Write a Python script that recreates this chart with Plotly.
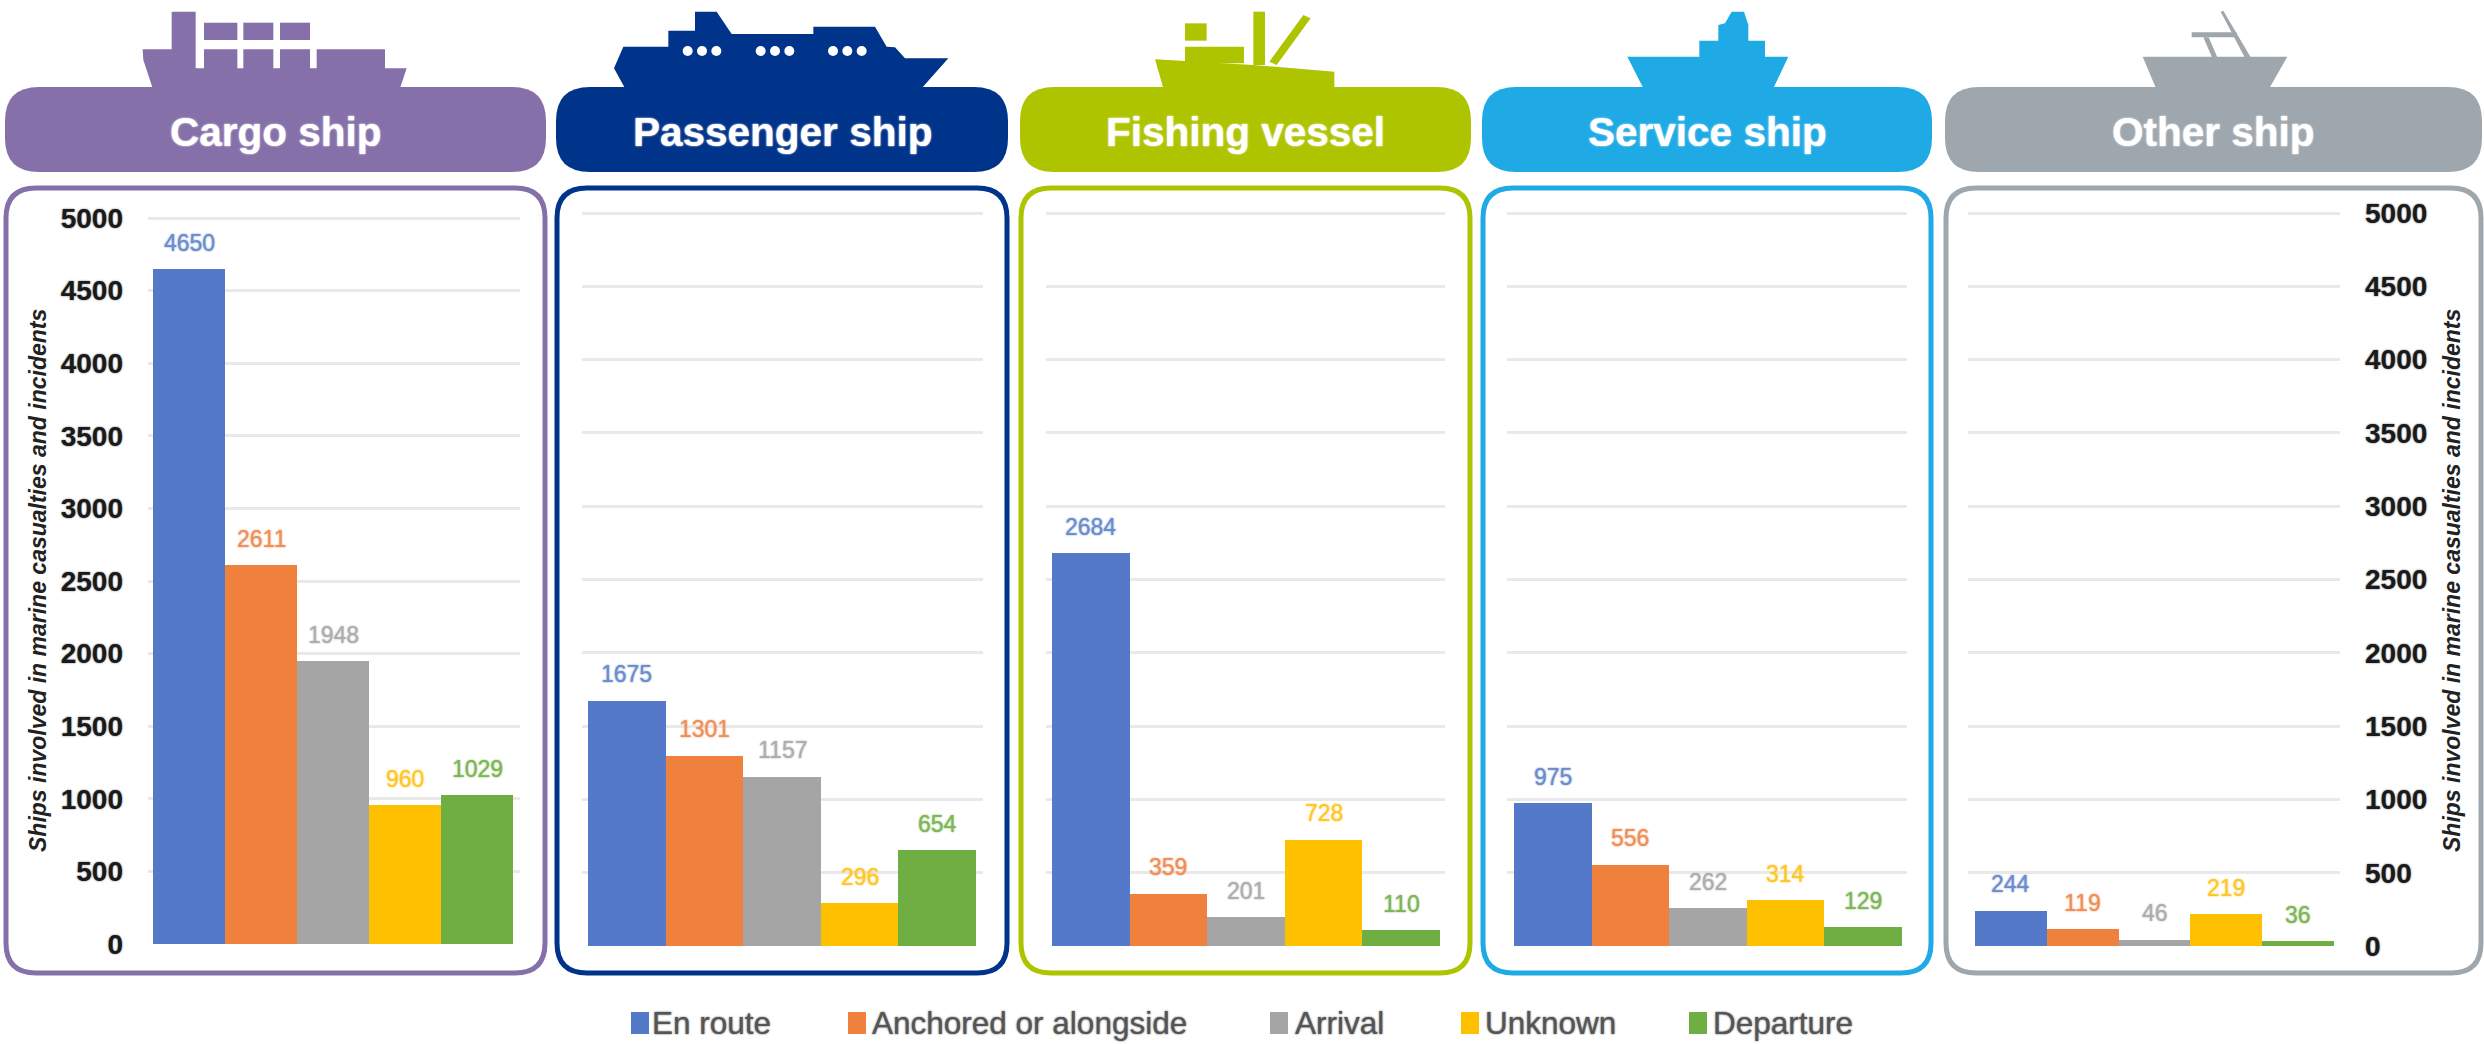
import plotly.graph_objects as go

# ---------- data ----------
SHIP_TYPES = ["Cargo ship", "Passenger ship", "Fishing vessel", "Service ship", "Other ship"]
STATES = ["En route", "Anchored or alongside", "Arrival", "Unknown", "Departure"]
EN_ROUTE = [4650, 1675, 2684, 975, 244]
ANCHORED = [2611, 1301, 359, 556, 119]
ARRIVAL = [1948, 1157, 201, 262, 46]
UNKNOWN = [960, 296, 728, 314, 219]
DEPARTURE = [1029, 654, 110, 129, 36]
SERIES = [EN_ROUTE, ANCHORED, ARRIVAL, UNKNOWN, DEPARTURE]
Y_TITLE = "Ships involved in marine casualties and incidents"

# ---------- styling ----------
W, H = 2484, 1044
FONT = "Liberation Sans"
BAR_COLORS = ["#5479C9", "#F0813C", "#A5A5A5", "#FFC000", "#6EAE43"]
LABEL_COLORS = ["#6C8CCB", "#EE8F5A", "#ADADAD", "#FFC62A", "#7DB558"]
HEAD_COLORS = ["#8670A9", "#00338A", "#AFC400", "#1FAAE6", "#9EA7AD"]
# box left/right, bars left/right, grid left/right, y of 5000 and of 0 (pixels)
BOX = [(6, 545), (557, 1007), (1021, 1470), (1483, 1931), (1946, 2481)]
BARS = [(153, 513), (588, 976), (1052, 1440), (1514, 1902), (1975, 2334)]
GRID = [(148, 520), (582, 983), (1046, 1445), (1507, 1907), (1968, 2340)]
YPIX = [(218, 944), (213, 946), (213, 946), (213, 946), (213, 946)]
HEAD_Y = (87, 172)
BOX_Y = (188, 973)
Y_TOP = 5050  # just above the last tick, so that its gridline is drawn


def px(x):
    return x / W


def py(y):
    return 1 - y / H


def rounded(x0, y0, x1, y1, r):
    p = [
        f"M{px(x0 + r)},{py(y0)}", f"L{px(x1 - r)},{py(y0)}", f"Q{px(x1)},{py(y0)} {px(x1)},{py(y0 + r)}",
        f"L{px(x1)},{py(y1 - r)}", f"Q{px(x1)},{py(y1)} {px(x1 - r)},{py(y1)}",
        f"L{px(x0 + r)},{py(y1)}", f"Q{px(x0)},{py(y1)} {px(x0)},{py(y1 - r)}",
        f"L{px(x0)},{py(y0 + r)}", f"Q{px(x0)},{py(y0)} {px(x0 + r)},{py(y0)}", "Z",
    ]
    return " ".join(p)


def poly(ox, pts):
    return "M" + " L".join(f"{px(ox + a / 3)},{py(b / 3)}" for a, b in pts) + " Z"


def rect(ox, x0, y0, x1, y1):
    return poly(ox, [(x0, y0), (x1, y0), (x1, y1), (x0, y1)])


ICONS = [
    [poly(130, [(38, 148), (125, 148), (125, 35), (197, 35), (197, 205), (222, 205), (222, 148), (322, 148),
                (322, 205), (340, 205), (340, 148), (430, 148), (430, 205), (450, 205), (450, 148), (540, 148),
                (540, 205), (560, 205), (560, 148), (765, 148), (765, 205), (830, 205), (810, 265), (68, 265),
                (40, 180)]),
     rect(130, 222, 68, 322, 120), rect(130, 340, 68, 430, 120), rect(130, 450, 68, 540, 120)],
    [poly(600, [(42, 205), (70, 140), (205, 140), (205, 92), (285, 92), (285, 35), (350, 35), (395, 102), (640, 102),
                (640, 80), (825, 80), (860, 140), (885, 142), (915, 175), (1045, 175), (965, 265), (75, 265)])],
    [poly(1140, [(45, 178), (340, 195), (583, 215), (583, 265), (70, 265)]),
     rect(1140, 135, 70, 200, 122), rect(1140, 135, 140, 312, 190), rect(1140, 340, 35, 375, 195),
     poly(1140, [(388, 185), (490, 45), (512, 55), (410, 195)])],
    [poly(1610, [(52, 170), (268, 170), (268, 122), (325, 122), (325, 75), (345, 70), (365, 35), (402, 35), (415, 75),
                 (415, 122), (465, 122), (465, 170), (535, 170), (490, 265), (100, 265)])],
    [poly(2130, [(38, 170), (472, 170), (418, 265), (78, 265)]),
     rect(2130, 185, 97, 320, 112), poly(2130, [(220, 112), (236, 112), (262, 172), (246, 172)]),
     poly(2130, [(272, 35), (280, 32), (362, 172), (344, 172)])],
]
WINDOWS_X = [263, 306, 349, 482, 525, 568, 699, 742, 785]

LEGEND_SQUARES = [631, 848, 1270, 1461, 1689]
LEGEND_TEXT = [650, 870, 1293, 1483, 1711]

fig = go.Figure()
shapes, annots = [], []

for i, name in enumerate(SHIP_TYPES):
    n = str(i + 1) if i else ""
    vals = [s[i] for s in SERIES]
    fig.add_trace(go.Bar(x=STATES, y=vals, marker=dict(color=BAR_COLORS, line=dict(width=0)),
                         xaxis=f"x{n}", yaxis=f"y{n}", showlegend=False, name=name))
    bl, br = BARS[i]
    gl, gr = GRID[i]
    step = (br - bl) / 5
    xr = [-0.5 - (bl - gl) / step, 4.5 + (gr - br) / step]
    y5, y0 = YPIX[i]
    ytop = y0 - (y0 - y5) * Y_TOP / 5000
    xa = dict(domain=[px(gl), px(gr)], range=xr, type="category", categoryorder="array", categoryarray=STATES,
              showticklabels=False, showgrid=False, zeroline=False, showline=False, ticks="",
              anchor=f"y{n}")
    ya = dict(domain=[py(y0), py(ytop)], range=[0, Y_TOP], dtick=500, showgrid=True, gridcolor="#E9E9E9", gridwidth=3,
              zeroline=False, showline=False, ticks="", anchor=f"x{n}",
              showticklabels=i in (0, 4),
              tickfont=dict(family=FONT, size=28, color="#1A1A1A", weight="bold", shadow="0 0 2px #666666"),
              ticklabelstandoff=24)
    if i == 4:
        ya["side"] = "right"
    fig.update_layout(**{f"xaxis{n}": xa, f"yaxis{n}": ya})

    for st, v, c in zip(STATES, vals, LABEL_COLORS):
        annots.append(dict(x=st, y=v, xref=f"x{n}", yref=f"y{n}", text=str(v), showarrow=False,
                           yanchor="bottom", yshift=11,
                           font=dict(family=FONT, size=23, color=c, shadow=f"0 0 2px {c}")))

    # header and frame
    bx0, bx1 = BOX[i]
    shapes.append(dict(type="path", path=rounded(bx0 - 1, HEAD_Y[0], bx1 + 1, HEAD_Y[1], 34), xref="paper", yref="paper",
                       fillcolor=HEAD_COLORS[i], line=dict(width=0), layer="below"))
    shapes.append(dict(type="path", path=rounded(bx0, BOX_Y[0], bx1, BOX_Y[1], 30), xref="paper", yref="paper",
                       fillcolor="rgba(0,0,0,0)", line=dict(width=5, color=HEAD_COLORS[i]), layer="below"))
    for p in ICONS[i]:
        shapes.append(dict(type="path", path=p, xref="paper", yref="paper", fillcolor=HEAD_COLORS[i],
                           line=dict(width=0), layer="below"))
    annots.append(dict(x=px((bx0 + bx1) / 2), y=py(132), xref="paper", yref="paper", text=f"<b>{name}</b>",
                       showarrow=False, xanchor="center", yanchor="middle",
                       font=dict(family=FONT, size=40.5, color="white", shadow="0 0 2px #FFFFFF")))

# portholes on the passenger ship
for wx in WINDOWS_X:
    cx, cy = 600 + wx / 3, 153 / 3
    shapes.append(dict(type="circle", xref="paper", yref="paper", x0=px(cx - 5), x1=px(cx + 5), y0=py(cy + 5),
                       y1=py(cy - 5), fillcolor="white", line=dict(width=0)))

# rotated axis captions
for xpos in (38, 2452):
    annots.append(dict(x=px(xpos), y=py(581), xref="paper", yref="paper", text=f"<b><i>{Y_TITLE}</i></b>",
                       textangle=-90, showarrow=False, xanchor="center", yanchor="middle",
                       font=dict(family=FONT, size=23, color="#222222")))

# legend row
for st, c, sx, tx in zip(STATES, BAR_COLORS, LEGEND_SQUARES, LEGEND_TEXT):
    shapes.append(dict(type="rect", xref="paper", yref="paper", x0=px(sx), x1=px(sx + 18), y0=py(1034), y1=py(1012),
                       fillcolor=c, line=dict(width=0)))
    annots.append(dict(x=px(tx), y=py(1023), xref="paper", yref="paper", text=st, showarrow=False,
                       xanchor="left", yanchor="middle",
                       font=dict(family=FONT, size=31.5, color="#555555", shadow="0 0 2px #555555")))

fig.update_layout(width=W, height=H, margin=dict(l=0, r=0, t=0, b=0, autoexpand=False), autosize=False, bargap=0,
                  plot_bgcolor="rgba(0,0,0,0)", paper_bgcolor="white", showlegend=False,
                  shapes=shapes, annotations=annots, font=dict(family=FONT))
fig.write_html("out.html", config=dict(displayModeBar=False),
               post_script="document.body.style.margin='0';document.body.style.overflow='hidden';")
